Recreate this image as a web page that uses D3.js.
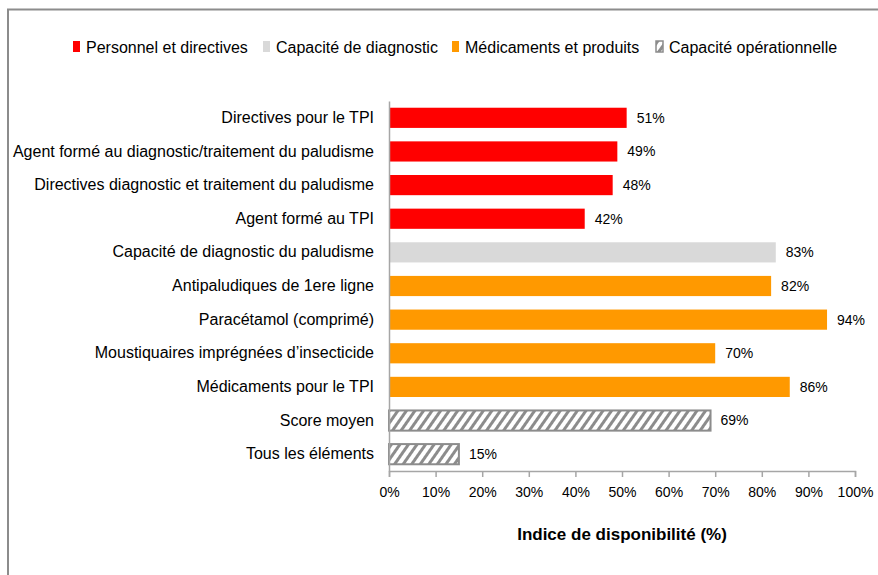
<!DOCTYPE html>
<html>
<head>
<meta charset="utf-8">
<script src="https://cdn.jsdelivr.net/npm/d3@7"></script>
<style>
  body { margin: 0; background: #fff; }
  text { font-family: "Liberation Sans Narrow", "Arial Narrow", sans-serif; fill: #000; }
</style>
</head>
<body>
<svg id="chart"></svg>
<script>
let categories = [
    "Directives pour le TPI",
    "Agent formé au diagnostic/traitement du paludisme",
    "Directives diagnostic et traitement du paludisme",
    "Agent formé au TPI",
    "Capacité de diagnostic du paludisme",
    "Antipaludiques de 1ere ligne",
    "Paracétamol (comprimé)",
    "Moustiquaires imprégnées d’insecticide",
    "Médicaments pour le TPI",
    "Score moyen",
    "Tous les éléments"
];
let values = [51, 49, 48, 42, 83, 82, 94, 70, 86, 69, 15];
let groups = ["Personnel et directives", "Personnel et directives", "Personnel et directives", "Personnel et directives",
    "Capacité de diagnostic",
    "Médicaments et produits", "Médicaments et produits", "Médicaments et produits", "Médicaments et produits",
    "Capacité opérationnelle", "Capacité opérationnelle"];
let legendNames = ["Personnel et directives", "Capacité de diagnostic", "Médicaments et produits", "Capacité opérationnelle"];
let tickValues = [0, 10, 20, 30, 40, 50, 60, 70, 80, 90, 100];

let width = 878;
let height = 575;
let margin = { top: 101, bottom: 104, left: 389, right: 23 };

let svg = d3.select("#chart")
    .attr("width", width)
    .attr("height", height);

let defs = svg.append("defs");
let pattern = defs.append("pattern")
    .attr("id", "hatch")
    .attr("patternUnits", "userSpaceOnUse")
    .attr("width", 7)
    .attr("height", 7)
    .attr("patternTransform", "rotate(35)");
pattern.append("rect").attr("width", 7).attr("height", 7).attr("fill", "#fff");
pattern.append("rect").attr("width", 3).attr("height", 7).attr("fill", "#8c8c8c");

let color = d3.scaleOrdinal()
    .domain(legendNames)
    .range(["#ff0000", "#d9d9d9", "#ff9900", "url(#hatch)"]);

// frame (left and top only, as in the source image)
svg.append("path")
    .attr("d", `M8,${height} V9.5 H${width}`)
    .attr("fill", "none")
    .attr("stroke", "#8c8c8c")
    .attr("stroke-width", 2);

let xScale = d3.scaleLinear()
    .domain([0, 100])
    .range([margin.left, width - margin.right]);
let yScale = d3.scaleBand()
    .domain(categories)
    .range([margin.top, height - margin.bottom])
    .paddingInner(0.4)
    .paddingOuter(0.2);

// bars
let rows = categories.map((c, i) => ({ name: c, value: values[i], group: groups[i] }));
svg.append("g").selectAll("rect")
    .data(rows)
    .enter().append("rect")
    .attr("x", xScale(0))
    .attr("y", d => yScale(d.name))
    .attr("width", d => xScale(d.value) - xScale(0))
    .attr("height", yScale.bandwidth())
    .attr("fill", d => color(d.group))
    .attr("stroke", d => d.group == "Capacité opérationnelle" ? "#8c8c8c" : "none")
    .attr("stroke-width", 2);

// value labels
svg.append("g").selectAll("text")
    .data(rows)
    .enter().append("text")
    .attr("x", d => xScale(d.value) + 10)
    .attr("y", d => yScale(d.name) + yScale.bandwidth() / 2)
    .attr("dy", "0.35em")
    .style("font-size", "14px")
    .text(d => d.value + "%");

// y axis
let yAxis = svg.append("g")
    .attr("transform", `translate(${margin.left},0)`)
    .call(d3.axisLeft(yScale).tickSize(0).tickPadding(15));
yAxis.select(".domain").attr("stroke", "#a6a6a6").attr("stroke-width", 1.5);
yAxis.selectAll("text").style("font-size", "16px").attr("font-family", null);

// x axis
let xAxis = svg.append("g")
    .attr("transform", `translate(0,${height - margin.bottom})`)
    .call(d3.axisBottom(xScale).tickValues(tickValues).tickFormat(d => d + "%").tickSizeInner(6).tickSizeOuter(6).tickPadding(10));
xAxis.select(".domain").attr("stroke", "#a6a6a6").attr("stroke-width", 1.5);
xAxis.selectAll(".tick line").attr("stroke", "#a6a6a6").attr("stroke-width", 1.5);
xAxis.selectAll("text").style("font-size", "14px").attr("font-family", null);

svg.append("text")
    .attr("x", (xScale(0) + xScale(100)) / 2)
    .attr("y", 540)
    .attr("text-anchor", "middle")
    .style("font-size", "17px")
    .style("font-weight", "bold")
    .text("Indice de disponibilité (%)");

// legend
let legendX = [73, 263, 452, 656];
let legend = svg.append("g").selectAll("g")
    .data(legendNames)
    .enter().append("g")
    .attr("transform", (d, i) => `translate(${legendX[i]},41)`);
legend.append("rect")
    .attr("width", 7)
    .attr("height", 11)
    .attr("fill", d => color(d))
    .attr("stroke", d => d == "Capacité opérationnelle" ? "#8c8c8c" : "none")
    .attr("stroke-width", 1.5);
legend.append("text")
    .attr("x", 13)
    .attr("y", 6)
    .attr("dy", "0.35em")
    .style("font-size", "16px")
    .text(d => d);
</script>
</body>
</html>
